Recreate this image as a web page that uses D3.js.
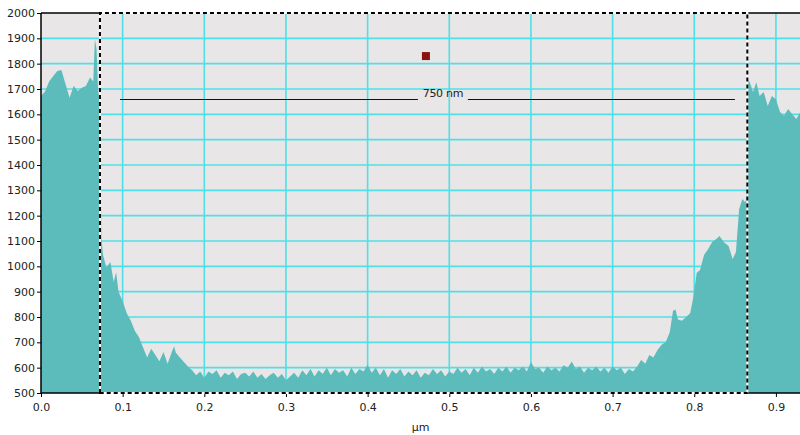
<!DOCTYPE html>
<html>
    <head>
        <meta charset="utf-8">
        <title>Line profile</title>
        <script src="https://cdn.jsdelivr.net/npm/d3@7"></script>
        <style>
            body { margin: 0; background: #fff; }
            text { font-family: "DejaVu Sans", Verdana, sans-serif; }
        </style>
    </head>
    <body>
        <script type="text/javascript">
            // profile position along the scan line (um)
            var positions = [
                0.000, 0.005, 0.010, 0.015, 0.020, 0.025, 0.030, 0.035, 0.040, 0.045,
                0.050, 0.055, 0.060, 0.064, 0.066, 0.068, 0.070, 0.072, 0.074, 0.076,
                0.080, 0.085, 0.089, 0.092, 0.095, 0.100, 0.105, 0.110, 0.115, 0.120,
                0.125, 0.130, 0.135, 0.140, 0.145, 0.150, 0.155, 0.160, 0.163, 0.165,
                0.170, 0.175, 0.180, 0.185, 0.190, 0.195, 0.200, 0.205, 0.210, 0.215,
                0.220, 0.225, 0.230, 0.235, 0.240, 0.245, 0.250, 0.255, 0.260, 0.265,
                0.270, 0.275, 0.280, 0.285, 0.290, 0.295, 0.300, 0.305, 0.310, 0.315,
                0.320, 0.325, 0.330, 0.335, 0.340, 0.345, 0.350, 0.355, 0.360, 0.365,
                0.370, 0.375, 0.380, 0.385, 0.390, 0.395, 0.400, 0.405, 0.410, 0.415,
                0.420, 0.425, 0.430, 0.435, 0.440, 0.445, 0.450, 0.455, 0.460, 0.465,
                0.470, 0.475, 0.480, 0.485, 0.490, 0.495, 0.500, 0.505, 0.510, 0.515,
                0.520, 0.525, 0.530, 0.535, 0.540, 0.545, 0.550, 0.555, 0.560, 0.565,
                0.570, 0.575, 0.580, 0.585, 0.590, 0.595, 0.600, 0.605, 0.610, 0.615,
                0.620, 0.625, 0.630, 0.635, 0.640, 0.645, 0.650, 0.655, 0.660, 0.665,
                0.670, 0.675, 0.680, 0.685, 0.690, 0.695, 0.700, 0.705, 0.710, 0.715,
                0.720, 0.725, 0.730, 0.735, 0.740, 0.745, 0.750, 0.755, 0.760, 0.765,
                0.770, 0.774, 0.777, 0.780, 0.785, 0.790, 0.795, 0.799, 0.803, 0.807,
                0.812, 0.817, 0.822, 0.827, 0.831, 0.836, 0.842, 0.847, 0.851, 0.855,
                0.859, 0.862, 0.8635, 0.8655, 0.868, 0.872, 0.876, 0.880, 0.885, 0.890,
                0.895, 0.900, 0.905, 0.910, 0.915, 0.920, 0.925, 0.930
            ];
            // measured height / intensity at each position
            var heights = [
                1672, 1690, 1730, 1751, 1771, 1775, 1720, 1665, 1712, 1692,
                1705, 1712, 1745, 1730, 1897, 1858, 1690, 1660, 1110, 1045,
                995, 1017, 938, 977, 900, 862, 815, 785, 745, 720,
                680, 640, 675, 650, 625, 662, 615, 660, 685, 660,
                640, 622, 605, 590, 570, 585, 560, 585, 575, 590,
                560, 580, 570, 585, 555, 575, 580, 565, 585, 560,
                575, 555, 570, 580, 560, 575, 550, 565, 580, 560,
                590, 570, 595, 565, 590, 575, 600, 570, 595, 580,
                590, 565, 600, 575, 595, 585, 612, 580, 600, 570,
                595, 560, 590, 575, 595, 565, 585, 570, 590, 560,
                580, 570, 595, 575, 590, 565, 585, 575, 600, 580,
                595, 570, 600, 580, 605, 585, 595, 575, 600, 585,
                605, 580, 600, 590, 605, 585, 622, 595, 600, 580,
                605, 590, 600, 585, 610, 600, 624, 595, 605, 580,
                600, 590, 605, 585, 600, 580, 605, 590, 600, 575,
                595, 585, 605, 630, 615, 650, 640, 670, 690, 700,
                740, 825, 830, 790, 785, 800, 815, 880, 975, 985,
                1045, 1068, 1096, 1108, 1120, 1096, 1080, 1029, 1056, 1226,
                1266, 1254, 1260, 1739, 1727, 1688, 1727, 1672, 1688, 1633,
                1672, 1660, 1609, 1594, 1621, 1600, 1582, 1609
            ];
            var xTicks = [0.0, 0.1, 0.2, 0.3, 0.4, 0.5, 0.6, 0.7, 0.8, 0.9];
            var yTicks = [500, 600, 700, 800, 900, 1000, 1100, 1200, 1300, 1400,
                          1500, 1600, 1700, 1800, 1900, 2000];
            // measurement markers
            var cursorX = [0.0722, 0.8650];
            var spanX = [0.0967, 0.8498], spanY = 1660;
            var spanLabel = "750 nm", spanLabelX = [0.4616, 0.5228];
            var marker = [0.4714, 1830];

            var w = 800, h = 435;
            var pLeft = 41, pRight = 800, pTop = 13, pBottom = 393;

            var x = d3.scaleLinear().domain([0, 0.9295]).range([pLeft, pRight]);
            var y = d3.scaleLinear().domain([500, 2000]).range([pBottom, pTop]);

            var svg = d3.select("body").append("svg")
                .attr("width", w)
                .attr("height", h);

            svg.append("rect")
                .attr("x", pLeft).attr("y", pTop)
                .attr("width", pRight - pLeft).attr("height", pBottom - pTop)
                .attr("fill", "#e8e6e6");

            // grid
            svg.append("g").selectAll("line")
                .data(xTicks.slice(1))
                .enter().append("line")
                    .attr("x1", function(d) { return x(d); })
                    .attr("x2", function(d) { return x(d); })
                    .attr("y1", pTop).attr("y2", pBottom)
                    .attr("stroke", "#4ee0e6").attr("stroke-width", 1.6);
            svg.append("g").selectAll("line")
                .data(yTicks.slice(1, -1))
                .enter().append("line")
                    .attr("y1", function(d) { return y(d); })
                    .attr("y2", function(d) { return y(d); })
                    .attr("x1", pLeft).attr("x2", pRight)
                    .attr("stroke", "#4ee0e6").attr("stroke-width", 1.6);

            var data = positions.map(function(p, i) { return [p, heights[i]]; });
            var area = d3.area()
                .x(function(d) { return x(d[0]); })
                .y0(pBottom)
                .y1(function(d) { return y(d[1]); });

            svg.append("path")
                .datum(data)
                .attr("d", area)
                .attr("fill", "#5bbcbb");

            // axes
            var yAxis = d3.axisLeft(y).tickValues(yTicks).tickSize(4).tickPadding(2)
                .tickFormat(d3.format("d"));
            var gy = svg.append("g").attr("transform", "translate(" + pLeft + ",0)").call(yAxis);
            var xAxis = d3.axisBottom(x).tickValues(xTicks).tickSize(4).tickPadding(6)
                .tickFormat(d3.format(".1f"));
            var gx = svg.append("g").attr("transform", "translate(0," + pBottom + ")").call(xAxis);
            [gy, gx].forEach(function(g) {
                g.select(".domain").attr("stroke", "#000").attr("stroke-width", 1.5);
                g.selectAll(".tick line").attr("stroke", "#000");
                g.selectAll("text").attr("fill", "#222").style("font-size", "11px")
                    .style("font-family", "'DejaVu Sans', Verdana, sans-serif");
            });
            gy.select(".domain").attr("d", "M0," + pBottom + "V" + pTop);
            gx.select(".domain").attr("d", "M" + pLeft + ",0H" + pRight);

            svg.append("line")
                .attr("x1", pLeft).attr("x2", pRight)
                .attr("y1", pTop).attr("y2", pTop)
                .attr("stroke", "#000").attr("stroke-width", 1.5);

            svg.append("text")
                .attr("x", (pLeft + pRight) / 2).attr("y", 431)
                .attr("text-anchor", "middle")
                .style("font-size", "11px").attr("fill", "#222")
                .text("\u00b5m");

            // dashed cursor box
            var box = "M" + x(cursorX[0]) + "," + pBottom + "V" + pTop +
                      "H" + x(cursorX[1]) + "V" + pBottom + "Z";
            svg.append("path").attr("d", box).attr("fill", "none")
                .attr("stroke", "#fff").attr("stroke-width", 2);
            svg.append("path").attr("d", box).attr("fill", "none")
                .attr("stroke", "#000").attr("stroke-width", 2)
                .attr("stroke-dasharray", "4,3");

            // span annotation, the label sits in a gap of the line
            var sy = Math.round(y(spanY)) + 0.5;
            svg.append("line")
                .attr("x1", x(spanX[0])).attr("x2", x(spanLabelX[0]))
                .attr("y1", sy).attr("y2", sy)
                .attr("stroke", "#111").attr("stroke-width", 1);
            svg.append("line")
                .attr("x1", x(spanLabelX[1])).attr("x2", x(spanX[1]))
                .attr("y1", sy).attr("y2", sy)
                .attr("stroke", "#111").attr("stroke-width", 1);
            svg.append("text")
                .attr("x", (x(spanLabelX[0]) + x(spanLabelX[1])) / 2)
                .attr("y", sy - 3)
                .attr("text-anchor", "middle")
                .style("font-size", "11px").style("letter-spacing", "-0.3px")
                .attr("fill", "#222")
                .text(spanLabel);

            svg.append("rect")
                .attr("x", x(marker[0]) - 4).attr("y", y(marker[1]) - 4)
                .attr("width", 8).attr("height", 8)
                .attr("fill", "#8a1212");
        </script>
    </body>
</html>
